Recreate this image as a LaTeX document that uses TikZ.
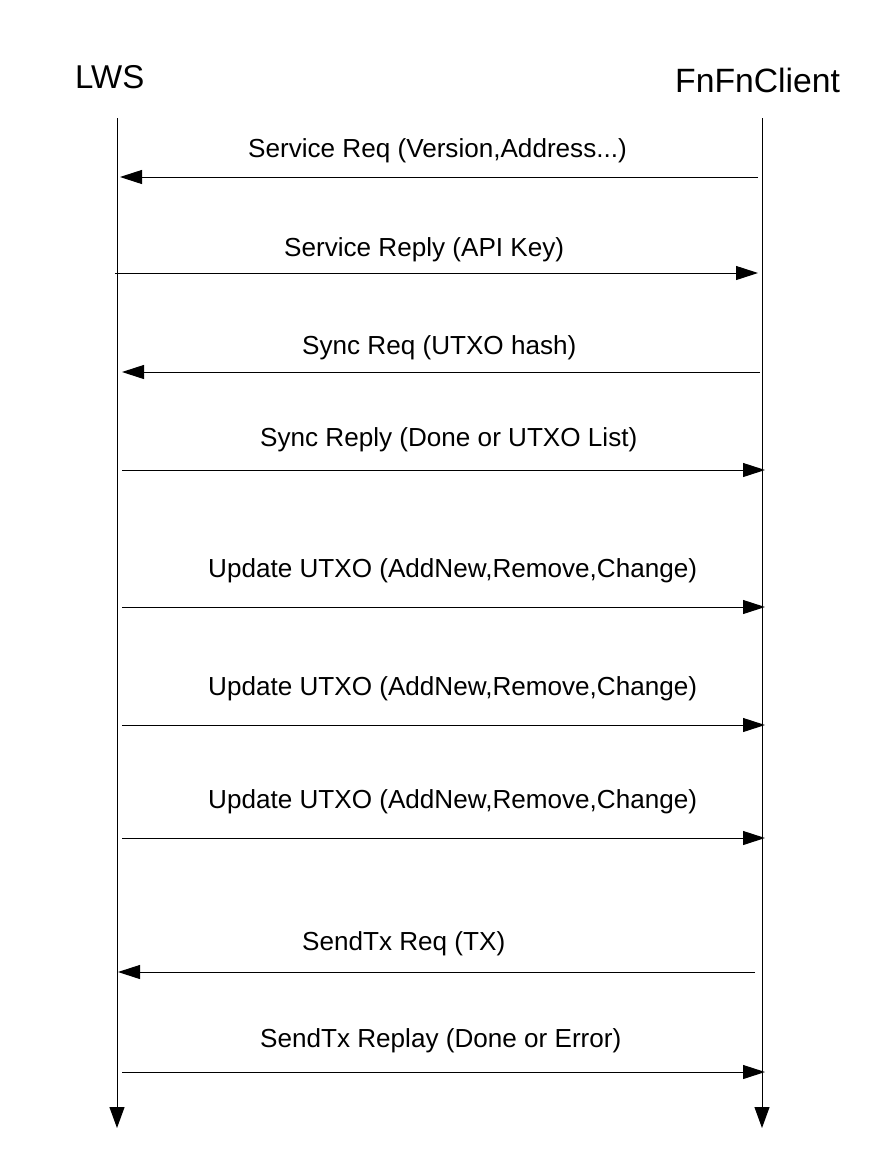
\documentclass[tikz,border=0pt]{standalone}
\usepackage{fontspec}
\setmainfont{Liberation Sans}
\usetikzlibrary{arrows.meta}

\tikzset{
  lifeline/.style={line width=1pt, -{Triangle[length=21pt,width=15pt]}},
  msg/.style={line width=1pt, -{Triangle[length=22pt,width=14pt]}},
  msglabel/.style={anchor=base west, inner sep=0pt, font=\fontsize{26.1}{30}\selectfont},
  actor/.style={anchor=base west, inner sep=0pt, font=\fontsize{33}{38}\selectfont}
}

\begin{document}
\begin{tikzpicture}[x=1pt, y=-1pt]
  \useasboundingbox (0,0) rectangle (872,1163);

  % participants
  \node[actor] (lws) at (75,88) {LWS};
  \node[actor, font=\fontsize{33.7}{38}\selectfont] (cli) at (675,92) {FnFnClient};

  % lifelines
  \coordinate (lwsTop) at (117,118);
  \coordinate (lwsBot) at (117,1128);
  \coordinate (cliTop) at (762,118);
  \coordinate (cliBot) at (762,1128);
  \draw[lifeline] (lwsTop) -- (lwsBot);
  \draw[lifeline] (cliTop) -- (cliBot);

  % 1: Service Req
  \coordinate (m1s) at (758,177);
  \coordinate (m1e) at (120,177);
  \draw[msg] (m1s) -- (m1e);
  \node[msglabel] (l1) at (248,157) {Service Req (Version,Address...)};

  % 2: Service Reply
  \coordinate (m2s) at (115,273);
  \coordinate (m2e) at (758,273);
  \draw[msg] (m2s) -- (m2e);
  \node[msglabel] (l2) at (284,256) {Service Reply (API Key)};

  % 3: Sync Req
  \coordinate (m3s) at (760,372);
  \coordinate (m3e) at (122,372);
  \draw[msg] (m3s) -- (m3e);
  \node[msglabel] (l3) at (302,354) {Sync Req (UTXO hash)};

  % 4: Sync Reply
  \coordinate (m4s) at (122,470);
  \coordinate (m4e) at (765,470);
  \draw[msg] (m4s) -- (m4e);
  \node[msglabel] (l4) at (260,446) {Sync Reply (Done or UTXO List)};

  % 5-7: Update UTXO
  \coordinate (m5s) at (122,607);
  \coordinate (m5e) at (765,607);
  \draw[msg] (m5s) -- (m5e);
  \node[msglabel] (l5) at (208,577) {Update UTXO (AddNew,Remove,Change)};

  \coordinate (m6s) at (122,725);
  \coordinate (m6e) at (765,725);
  \draw[msg] (m6s) -- (m6e);
  \node[msglabel] (l6) at (208,695) {Update UTXO (AddNew,Remove,Change)};

  \coordinate (m7s) at (122,838);
  \coordinate (m7e) at (765,838);
  \draw[msg] (m7s) -- (m7e);
  \node[msglabel] (l7) at (208,808) {Update UTXO (AddNew,Remove,Change)};

  % 8: SendTx Req
  \coordinate (m8s) at (755,972);
  \coordinate (m8e) at (118,972);
  \draw[msg] (m8s) -- (m8e);
  \node[msglabel] (l8) at (302,950) {SendTx Req (TX)};

  % 9: SendTx Replay
  \coordinate (m9s) at (122,1072);
  \coordinate (m9e) at (765,1072);
  \draw[msg] (m9s) -- (m9e);
  \node[msglabel] (l9) at (260,1047) {SendTx Replay (Done or Error)};
\end{tikzpicture}
\end{document}
